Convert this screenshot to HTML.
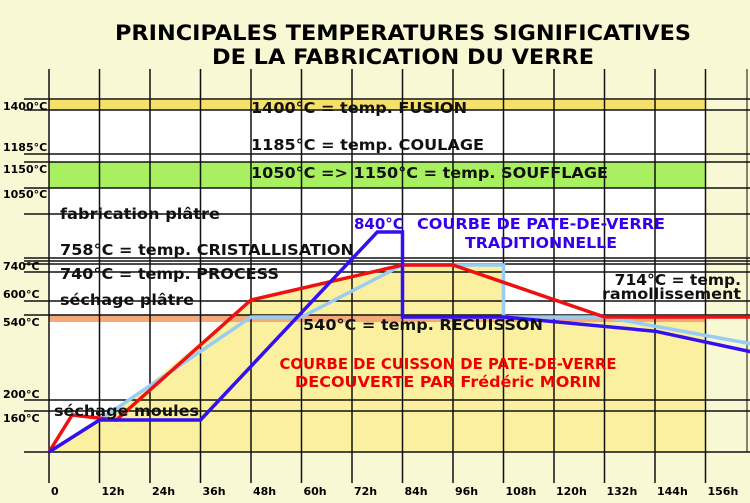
<!DOCTYPE html>
<html><head><meta charset="utf-8"><style>
html,body{margin:0;padding:0;background:#f8f8d4;}
svg{display:block;font-family:"DejaVu Sans","Liberation Sans",sans-serif;font-weight:bold;}
</style></head><body>
<svg id="chart" width="750" height="503" viewBox="0 0 750 503">
<rect x="0" y="0" width="750" height="503" fill="#f8f8d4"/>
<text x="403" y="40" text-anchor="middle" font-size="21" textLength="576" lengthAdjust="spacingAndGlyphs">PRINCIPALES TEMPERATURES SIGNIFICATIVES</text>
<text x="403" y="64" text-anchor="middle" font-size="21" textLength="382" lengthAdjust="spacingAndGlyphs">DE LA FABRICATION DU VERRE</text>
<rect x="49" y="99" width="656" height="353" fill="#ffffff"/>
<g id="fill"></g>
<rect x="49" y="100" width="656" height="10" fill="#f5e06a"/>
<rect x="49" y="162" width="656" height="26" fill="#a8f060"/>
<rect x="49" y="315" width="656" height="7" fill="#f5a878"/>
<g id="grid" stroke="#111" stroke-width="1.5"></g>
<g id="ylabels" font-size="11"></g>
<g id="xlabels" font-size="11"></g>
<g id="curves" fill="none" stroke-linejoin="miter" stroke-width="3.5"></g>
<g font-size="15.5" fill="#111">
<text x="251" y="113" textLength="216" lengthAdjust="spacingAndGlyphs">1400°C = temp. FUSION</text>
<text x="251" y="150" textLength="233" lengthAdjust="spacingAndGlyphs">1185°C = temp. COULAGE</text>
<text x="251" y="178" textLength="357" lengthAdjust="spacingAndGlyphs">1050°C =&gt; 1150°C = temp. SOUFFLAGE</text>
<text x="60" y="219" textLength="160" lengthAdjust="spacingAndGlyphs">fabrication plâtre</text>
<text x="60" y="255" textLength="294" lengthAdjust="spacingAndGlyphs">758°C = temp. CRISTALLISATION</text>
<text x="60" y="279" textLength="219" lengthAdjust="spacingAndGlyphs">740°C = temp. PROCESS</text>
<text x="60" y="305" textLength="134" lengthAdjust="spacingAndGlyphs">séchage plâtre</text>
<text x="303" y="330" textLength="240" lengthAdjust="spacingAndGlyphs">540°C = temp. RECUISSON</text>
<text x="54" y="416" textLength="145" lengthAdjust="spacingAndGlyphs">séchage moules</text>
<text x="741" y="285" text-anchor="end">714°C = temp.</text>
<text x="741" y="299" text-anchor="end" textLength="139" lengthAdjust="spacingAndGlyphs">ramollissement</text>
</g>
<g font-size="15" fill="#3300ee">
<text x="354" y="229">840°C</text>
<text x="541" y="229" text-anchor="middle" textLength="248" lengthAdjust="spacingAndGlyphs">COURBE DE PATE-DE-VERRE</text>
<text x="541" y="248" text-anchor="middle" textLength="152" lengthAdjust="spacingAndGlyphs">TRADITIONNELLE</text>
</g>
<g font-size="15" fill="#ee0000">
<text x="448" y="369" text-anchor="middle" textLength="337" lengthAdjust="spacingAndGlyphs">COURBE DE CUISSON DE PATE-DE-VERRE</text>
<text x="448" y="387" text-anchor="middle" textLength="306" lengthAdjust="spacingAndGlyphs">DECOUVERTE PAR Frédéric MORIN</text>
</g>
</svg>
<script>
const hourTicks = [0,12,24,36,48,60,72,84,96,108,120,132,144,156];
const tempLabels = ["1400°C","1185°C","1150°C","1050°C","740°C","600°C","540°C","200°C","160°C"];
const tempLabelValues = [1400,1185,1150,1050,740,600,540,200,160];
const redHours = [0,5.5,16,48,84,96,132,170];
const redTemps = [0,170,160,600,740,740,540,540];
const lightHours = [0,12,48,60,84,108,108,132,170];
const lightTemps = [0,160,540,540,740,740,540,540,428];
const blueHours = [0,12,36,78,84,84,108,144,170];
const blueTemps = [0,160,160,840,840,540,540,482,395];
const fillHours = [0,12,20,48,84,108,108,156,156];
const fillTemps = [0,160,210,600,740,740,540,540,0];

const NS = "http://www.w3.org/2000/svg";
const tKnots = [0,160,200,540,600,740,840,1050,1150,1185,1400];
const yKnots = [452,420,400,317,300,265,232,196,170,152,105];
function xScale(h){ return 49 + h * 50.5 / 12; }
function yScale(t){
  if (t <= tKnots[0]) return yKnots[0];
  for (let i=1;i<tKnots.length;i++){
    if (t <= tKnots[i]) { const f=(t-tKnots[i-1])/(tKnots[i]-tKnots[i-1]); return yKnots[i-1]+f*(yKnots[i]-yKnots[i-1]); }
  }
  return yKnots[yKnots.length-1];
}
function mk(tag, attrs, parent){ const e=document.createElementNS(NS,tag); for(const k in attrs) e.setAttribute(k,attrs[k]); parent.appendChild(e); return e; }

const grid = document.getElementById('grid');
[99,110,154,162,188,214,258,261,264,272,301,315,400,411,452].forEach(y=>{
  const l = mk('line',{x1:24,x2:750,y1:y,y2:y},grid);
  
  
});
hourTicks.forEach(h=>{
  const l = mk('line',{x1:xScale(h),x2:xScale(h),y1:69,y2:483},grid);
  
  
});
const rl = mk('line',{x1:747,x2:747,y1:69,y2:452,'stroke-width':1},grid);



const ylab = document.getElementById('ylabels');
const ylabY = [110,151,173,198,270,298,326,398,422];
tempLabels.forEach((s,i)=>{
  const t = mk('text',{x:3,y:ylabY[i]},ylab);
  t.textContent = s;
  
  
});
const xlab = document.getElementById('xlabels');
hourTicks.forEach(h=>{
  const t = mk('text',{x:xScale(h)+2,y:495},xlab);
  t.textContent = h===0 ? "0" : h+"h";
  
  
});

function pts(hs,ts){ return hs.map((h,i)=>xScale(Math.min(h,167.5)).toFixed(1)+","+yScale(ts[i]).toFixed(1)).join(" "); }
const fp = mk('polygon',{points:pts(fillHours,fillTemps),fill:'#fbf0a0'},document.getElementById('fill'));



const curves = document.getElementById('curves');
const c1 = mk('polyline',{points:pts(lightHours,lightTemps),stroke:'#99ccf5'},curves);


const c2 = mk('polyline',{points:pts(redHours,redTemps),stroke:'#ee1111'},curves);


const c3 = mk('polyline',{points:pts(blueHours,blueTemps),stroke:'#3311ee'},curves);


</script>
</body></html>
